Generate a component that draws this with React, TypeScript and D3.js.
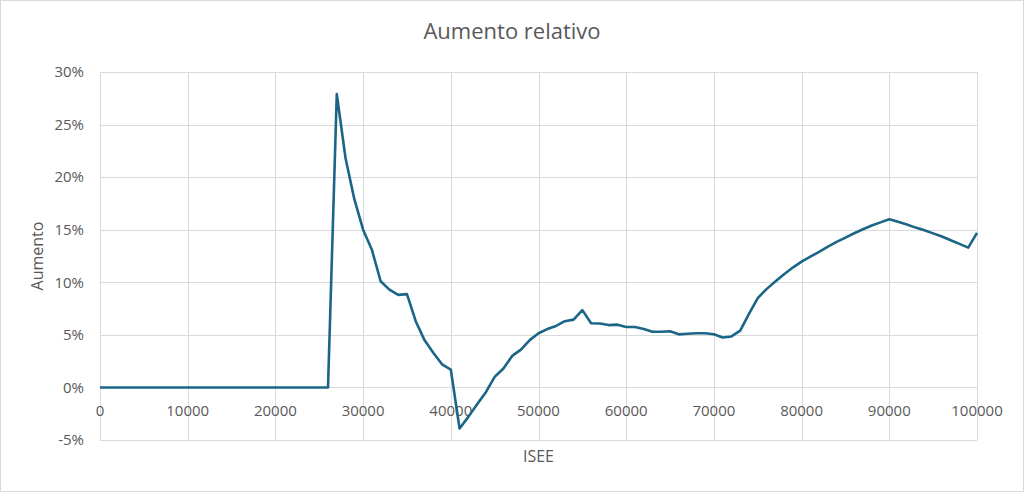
import React, { useEffect, useRef } from 'react';
import * as d3 from 'd3';

// ISEE categories (every 1000 from 0 to 100000)
const isee: number[] = d3.range(0, 100001, 1000);

// Relative increase, in percent
const aumento: number[] = [
  0, 0, 0, 0, 0, 0, 0, 0, 0, 0,
  0, 0, 0, 0, 0, 0, 0, 0, 0, 0,
  0, 0, 0, 0, 0, 0, 0,
  27.9, 21.8, 17.9, 15.0, 13.1, 10.1, 9.3, 8.8, 8.87, 6.3,
  4.5, 3.3, 2.2, 1.7, -3.9, -2.8, -1.6, -0.45, 1.0, 1.8,
  3.0, 3.6, 4.5, 5.15, 5.55, 5.85, 6.3, 6.45, 7.35, 6.1,
  6.08, 5.93, 5.97, 5.75, 5.75, 5.55, 5.3, 5.3, 5.35, 5.05,
  5.1, 5.15, 5.15, 5.05, 4.75, 4.85, 5.4, 7.0, 8.5, 9.35,
  10.07, 10.77, 11.4, 11.97, 12.44, 12.9, 13.4, 13.84, 14.25, 14.66,
  15.04, 15.4, 15.7, 16.0, 15.75, 15.5, 15.2, 14.95, 14.65, 14.35,
  14.0, 13.65, 13.3, 14.7,
];

const xTicks: number[] = [0, 10000, 20000, 30000, 40000, 50000, 60000, 70000, 80000, 90000, 100000];
const yTicks: number[] = [-5, 0, 5, 10, 15, 20, 25, 30];

const W = 1024;
const H = 492;
const FONT = "'Open Sans', 'Liberation Sans', sans-serif";
const TEXT = '#595959';
const GRID = '#d9d9d9';

export default function App() {
  const ref = useRef<SVGSVGElement>(null);

  useEffect(() => {
    if (!ref.current) return;
    const svg = d3.select(ref.current);
    svg.selectAll('*').remove();

    const margin = { top: 72, right: 47, bottom: 52, left: 100 };
    const x = d3.scaleLinear().domain([0, 100000]).range([margin.left, W - margin.right]);
    const y = d3.scaleLinear().domain([-5, 30]).range([H - margin.bottom, margin.top]);

    // outer border
    svg.append('rect')
      .attr('x', 0.5).attr('y', 0.5)
      .attr('width', W - 1).attr('height', H - 1)
      .attr('fill', '#fff').attr('stroke', GRID);

    // horizontal grid
    svg.append('g')
      .selectAll('line')
      .data(yTicks)
      .enter()
      .append('line')
      .attr('x1', x(0)).attr('x2', x(100000))
      .attr('y1', (d) => Math.round(y(d)) + 0.5)
      .attr('y2', (d) => Math.round(y(d)) + 0.5)
      .attr('stroke', GRID).attr('stroke-width', 1);

    // vertical grid
    svg.append('g')
      .selectAll('line')
      .data(xTicks)
      .enter()
      .append('line')
      .attr('x1', (d) => Math.round(x(d)) + 0.5)
      .attr('x2', (d) => Math.round(x(d)) + 0.5)
      .attr('y1', y(30)).attr('y2', y(-5))
      .attr('stroke', GRID).attr('stroke-width', 1);

    // y tick labels
    svg.append('g')
      .selectAll('text')
      .data(yTicks)
      .enter()
      .append('text')
      .text((d) => `${d}%`)
      .attr('x', 84)
      .attr('y', (d) => y(d))
      .attr('dy', '0.35em')
      .attr('text-anchor', 'end')
      .style('font-family', FONT)
      .style('font-size', '15px')
      .style('fill', TEXT);

    // x tick labels (placed below the 0% axis line)
    svg.append('g')
      .selectAll('text')
      .data(xTicks)
      .enter()
      .append('text')
      .text((d) => String(d))
      .attr('x', (d) => x(d))
      .attr('y', y(0) + 23)
      .attr('dy', '0.35em')
      .attr('text-anchor', 'middle')
      .style('font-family', FONT)
      .style('font-size', '15px')
      .style('fill', TEXT);

    // line
    const line = d3.line<number>()
      .x((_, i) => x(isee[i]))
      .y((d) => y(d));

    svg.append('path')
      .datum(aumento)
      .attr('d', line)
      .attr('fill', 'none')
      .attr('stroke', '#1b6586')
      .attr('stroke-width', 2.6)
      .attr('stroke-linejoin', 'round');

    // title
    svg.append('text')
      .text('Aumento relativo')
      .attr('x', W / 2)
      .attr('y', 31)
      .attr('dy', '0.35em')
      .attr('text-anchor', 'middle')
      .style('font-family', FONT)
      .style('font-size', '22px')
      .style('fill', TEXT);

    // axis titles
    svg.append('text')
      .text('ISEE')
      .attr('x', (x(0) + x(100000)) / 2)
      .attr('y', 456)
      .attr('dy', '0.35em')
      .attr('text-anchor', 'middle')
      .style('font-family', FONT)
      .style('font-size', '16px')
      .style('fill', TEXT);

    svg.append('text')
      .text('Aumento')
      .attr('transform', `translate(37,${(y(30) + y(-5)) / 2}) rotate(-90)`)
      .attr('dy', '0.35em')
      .attr('text-anchor', 'middle')
      .style('font-family', FONT)
      .style('font-size', '16px')
      .style('fill', TEXT);
  }, []);

  return (
    <svg
      ref={ref}
      width={W}
      height={H}
      style={{ position: 'fixed', left: 0, top: 0, display: 'block' }}
    />
  );
}
